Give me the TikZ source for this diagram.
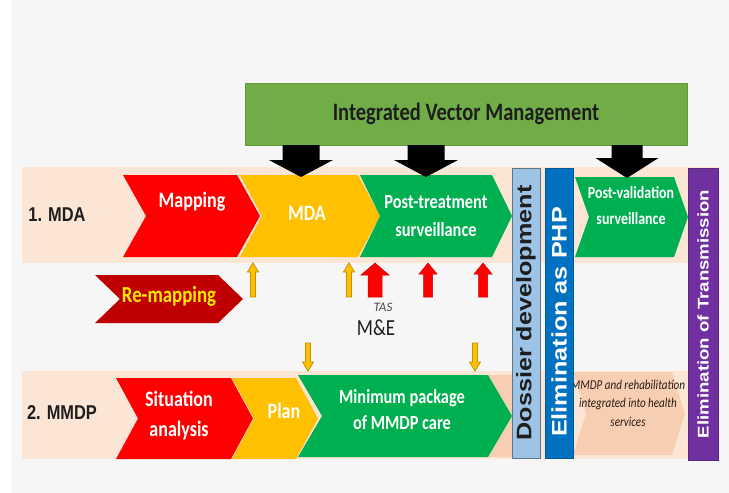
\documentclass[tikz,border=0pt]{standalone}
\usepackage{fontspec}
\setmainfont{Carlito}
\newfontfamily\calfont[FakeStretch=0.82]{Carlito}
\newfontfamily\calwide{Carlito}
\newfontfamily\arinarrow[FakeStretch=0.82]{Liberation Sans}
\newfontfamily\ariwide[FakeStretch=1.2]{Liberation Sans}
\usetikzlibrary{backgrounds,calc}

\definecolor{bgray}{RGB}{246,246,246}
\definecolor{peach}{RGB}{251,229,213}
\definecolor{peachdk}{RGB}{248,206,178}
\definecolor{cred}{RGB}{255,0,0}
\definecolor{cdred}{RGB}{192,0,0}
\definecolor{cyel}{RGB}{255,192,0}
\definecolor{cyeldk}{RGB}{196,146,0}
\definecolor{cgreen}{RGB}{0,176,80}
\definecolor{ivmgreen}{RGB}{112,173,71}
\definecolor{ivmedge}{RGB}{96,150,60}
\definecolor{lblue}{RGB}{157,195,230}
\definecolor{dblue}{RGB}{0,112,192}
\definecolor{cpurple}{RGB}{112,48,160}
\definecolor{ink}{RGB}{30,30,30}
\definecolor{remaptext}{RGB}{255,232,0}
\definecolor{rehabink}{RGB}{40,28,22}

% chevron fill behind a named box node: notch on the left, point on the right
\newcommand\chevfill[3]{%
  \fill[#3] (#1.north west) -- ([xshift=-#2]#1.north east) -- (#1.east)
    -- ([xshift=-#2]#1.south east) -- (#1.south west) -- ([xshift=#2]#1.west) -- cycle;}

% vertical block arrow between two points:
% #1 style, #2 start, #3 tip, #4 shaft width, #5 head width, #6 signed head length (canvas y)
\newcommand\blockarrow[6]{%
  \path[#1] let \p1=(#2), \p2=(#3) in
    ({\x1-#4/2},\y1) -- ({\x1-#4/2},{\y2+#6}) -- ({\x1-#5/2},{\y2+#6}) -- (\x2,\y2)
    -- ({\x1+#5/2},{\y2+#6}) -- ({\x1+#4/2},{\y2+#6}) -- ({\x1+#4/2},\y1) -- cycle;}

\begin{document}
\begin{tikzpicture}[x=1pt,y=-1pt,
  box/.style={inner sep=0pt, outer sep=0pt},
  chevtext/.style={text=white, align=center, font=\calfont\bfseries\fontsize{22}{28}\selectfont},
  bar/.style={inner sep=0pt, outer sep=0pt, rotate=90, minimum height=28pt},
  rowlabel/.style={text=ink, font=\arinarrow\bfseries\fontsize{20}{20}\selectfont},
  ivmarrow/.style={fill=black},
  yelarrow/.style={fill=cyel, draw=cyeldk, line width=0.8pt},
  redarrow/.style={fill=cred, draw=cred!80!black, line width=0.5pt},
]
\useasboundingbox (0,0) rectangle (729,493);

% the two programme rows
\node[box, minimum width=696pt, minimum height=96pt] (row1) at (370,215) {};
\node[box, minimum width=696pt, minimum height=88pt] (row2) at (370,415) {};

% chevron boxes
\node[box, minimum width=137pt, minimum height=82pt] (mapping) at (191.5,216) {};
\node[box, minimum width=140pt, minimum height=82pt] (mda)     at (310,216) {};
\node[box, minimum width=152pt, minimum height=82pt] (ptreat)  at (436,216) {};
\node[box, minimum width=113pt, minimum height=80pt] (pval)    at (631.5,217) {};
\node[box, minimum width=148pt, minimum height=48pt] (remap)   at (169,299) {};
\node[box, minimum width=137pt, minimum height=81pt] (situ)    at (184.5,418.5) {};
\node[box, minimum width=86pt,  minimum height=81pt] (plan)    at (275,418.5) {};
\node[box, minimum width=214pt, minimum height=82pt] (minpkg)  at (405,416) {};
\node[box, minimum width=112pt, minimum height=83pt] (rehab)   at (629,413.5) {};

\begin{pgfonlayer}{background}
  \fill[bgray] (0,0) rectangle (729,493);
  \fill[white] (0,0) rectangle (11,493);
  \fill[peach] (row1.north west) rectangle (row1.south east);
  \fill[peach] (row2.north west) rectangle (row2.south east);
  \fill[peachdk] ([xshift=-26pt]minpkg.north east) rectangle (minpkg.south east);
  \chevfill{mapping}{23pt}{cred}
  \chevfill{mda}{22pt}{cyel}
  \chevfill{ptreat}{20pt}{cgreen}
  \chevfill{pval}{14pt}{cgreen}
  \chevfill{remap}{25pt}{cdred}
  \chevfill{situ}{22pt}{cred}
  \chevfill{plan}{22pt}{cyel}
  \chevfill{minpkg}{24pt}{cgreen}
  \chevfill{rehab}{13pt}{peachdk}
\end{pgfonlayer}

% chevron texts
\node[chevtext] (tmapping) at (192,202) {Mapping};
\node[chevtext] (tmda) at (307,213) {MDA};
\node[chevtext, font=\calfont\bfseries\fontsize{20}{28}\selectfont] (tptreat) at (436,216) {Post-treatment\\surveillance};
\node[chevtext, font=\calfont\bfseries\fontsize{17}{26}\selectfont] (tpval) at (631,206) {Post-validation\\surveillance};
\node[chevtext, text=remaptext, font=\calfont\bfseries\fontsize{23}{23}\selectfont] (tremap) at (169,296) {Re-mapping};
\node[chevtext, font=\calfont\bfseries\fontsize{22}{30}\selectfont] (tsitu) at (179,415) {Situation\\analysis};
\node[chevtext] (tplan) at (284,411) {Plan};
\node[chevtext, font=\calfont\bfseries\fontsize{20}{26}\selectfont] (tminpkg) at (402,410) {Minimum package\\of MMDP care};
\node[text=rehabink, align=center, font=\calfont\itshape\fontsize{13.5}{18.5}\selectfont] (trehab) at (628,403)
  {MMDP and rehabilitation\\integrated into health\\services};

% row labels
\node[rowlabel] (lab1) at (57,215) {1. MDA};
\node[rowlabel] (lab2) at (62,413) {2. MMDP};

% milestone bars
\node[bar, minimum width=290pt, fill=lblue, draw=lblue!60!black, line width=0.6pt, text=ink,
  font=\ariwide\bfseries\fontsize{21}{21}\selectfont] (dossier) at (526,313) {Dossier development};
\node[bar, minimum width=290pt, fill=dblue, draw=dblue!80!black, line width=0.6pt, text=white,
  font=\ariwide\bfseries\fontsize{21}{21}\selectfont] (php) at (559,313) {Elimination as PHP\hspace*{18pt}};
\node[bar, minimum width=292pt, minimum height=30pt, fill=cpurple, draw=cpurple!80!black, line width=0.6pt, text=white,
  font=\ariwide\bfseries\fontsize{15.5}{15.5}\selectfont] (elimt) at (703,314) {Elimination of Transmission};

% integrated vector management
\node[box, minimum width=442pt, minimum height=62pt, fill=ivmgreen, draw=ivmedge, line width=0.6pt,
  text=ink, font=\calfont\bfseries\fontsize{25}{25}\selectfont] (ivm) at (466,114) {Integrated Vector Management};

% monitoring labels
\node[text=ink!80, font=\calwide\itshape\fontsize{13}{13}\selectfont] (tas) at (383,307) {TAS};
\node[text=ink, font=\calfont\fontsize{23}{23}\selectfont] (me) at (376,328) {M\&E};

% arrow end points
\coordinate (b1) at (301,177);
\coordinate (b2) at (426,177);
\coordinate (b3) at (627,178);
\coordinate (u1) at (253,297);
\coordinate (u2) at (349,297);
\coordinate (r1) at (375,297);
\coordinate (r2) at (428,297);
\coordinate (r3) at (483,297);
\coordinate (d1) at (308,343);
\coordinate (d2) at (475,343);

% vector management feeding the phases
\blockarrow{ivmarrow}{ivm.south -| b1}{b1}{37pt}{64pt}{17pt}
\blockarrow{ivmarrow}{ivm.south -| b2}{b2}{37pt}{64pt}{17pt}
\blockarrow{ivmarrow}{ivm.south -| b3}{b3}{31pt}{63pt}{20pt}

% re-mapping and monitoring inputs
\blockarrow{yelarrow}{u1}{row1.south -| u1}{5pt}{11pt}{-9pt}
\blockarrow{yelarrow}{u2}{row1.south -| u2}{5pt}{11pt}{-9pt}
\blockarrow{redarrow}{r1}{row1.south -| r1}{14pt}{28pt}{-12pt}
\blockarrow{redarrow}{r2}{row1.south -| r2}{9pt}{18pt}{-11pt}
\blockarrow{redarrow}{r3}{row1.south -| r3}{9pt}{18pt}{-11pt}
\blockarrow{yelarrow}{d1}{row2.north -| d1}{5pt}{11pt}{9pt}
\blockarrow{yelarrow}{d2}{row2.north -| d2}{5pt}{11pt}{9pt}
\end{tikzpicture}
\end{document}
